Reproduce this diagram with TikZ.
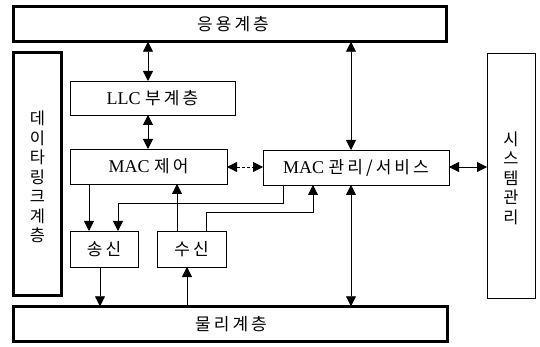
\documentclass[tikz,border=0pt]{standalone}
\usepackage{fontspec}
\setmainfont{Liberation Serif}
\newfontfamily\krfont{Noto Sans CJK KR}[LetterSpace=18]
\newcommand\kor[1]{{\krfont\fontsize{17}{20}\selectfont #1}}
\usetikzlibrary{arrows.meta,calc}
\begin{document}
\begin{tikzpicture}[x=1pt,y=-1pt,
  thickbox/.style={draw,line width=2.6pt,inner sep=0pt,outer sep=0pt,font=\fontsize{18}{21}\selectfont},
  thinbox/.style={draw,line width=0.8pt,inner sep=0pt,outer sep=0pt,font=\fontsize{18}{21}\selectfont},
  vtext/.style={align=center,font={\krfont\fontsize{16.5}{19.5}\selectfont}},
  conn/.style={line width=0.8pt},
  tip/.style={-{Triangle[length=10pt,width=10pt]}},
  dtip/.style={{Triangle[length=10pt,width=10pt]}-{Triangle[length=10pt,width=10pt]}}]
\useasboundingbox (0,0) rectangle (540,347);
\fill[white] (0,0) rectangle (540,347);
% boxes
\node[thickbox,minimum width=433.5pt,minimum height=35.5pt] (top) at (230,24) {};
\node (toplbl) at (233,24) {\kor{응용계층}};
\node[thickbox,minimum width=48.5pt,minimum height=243.5pt] (dl) at (37.5,174) {};
\node[vtext] (dllbl) at (37.5,177) {데\\이\\타\\링\\크\\계\\층};
\node[thickbox,minimum width=434.5pt,minimum height=35.5pt] (bot) at (230.5,324) {};
\node (botlbl) at (231,324) {\kor{물리계층}};
\node[thinbox,minimum width=165pt,minimum height=34pt] (llc) at (152.5,98) {LLC \kor{부계층}};
\node[thinbox,minimum width=157pt,minimum height=35pt] (mac) at (148.5,166.5) {MAC \kor{제어}};
\node[thinbox,minimum width=186pt,minimum height=35pt] (mgmt) at (356,167.5) {MAC \kor{관리/서비스}};
\node[thinbox,minimum width=48pt,minimum height=245pt] (sys) at (511,175.5) {};
\node[vtext] (syslbl) at (511,178) {시\\스\\템\\관\\리};
\node[thinbox,minimum width=68pt,minimum height=36pt] (tx) at (104,249) {\kor{송신}};
\node[thinbox,minimum width=69pt,minimum height=36pt] (rx) at (191.5,249) {\kor{수신}};
% helper coordinates
\coordinate (xa) at (148,0);
\coordinate (xb) at (351,0);
\coordinate (xc) at (89,0);
\coordinate (xd) at (118,0);
\coordinate (xe) at (283,203);
\coordinate (xf) at (177,0);
\coordinate (xg) at (206,212);
\coordinate (xh) at (313,212);
\coordinate (xi) at (100,0);
\coordinate (xj) at (187,0);
\coordinate (ya) at (0,167);
% connectors
\draw[conn,dtip] (top.south -| xa) -- (llc.north -| xa);
\draw[conn,dtip] (llc.south -| xa) -- (mac.north -| xa);
\draw[conn,dtip,densely dashed] (mac.east |- ya) -- (mgmt.west |- ya);
\draw[conn,dtip] (top.south -| xb) -- (mgmt.north -| xb);
\draw[conn,dtip] (mgmt.south -| xb) -- (bot.north -| xb);
\draw[conn,dtip] (mgmt.east |- ya) -- (sys.west |- ya);
\draw[conn,tip] (mac.south -| xc) -- (tx.north -| xc);
\draw[conn,tip] (mgmt.south -| xe) -- (xe) -- (xe -| xd) -- (tx.north -| xd);
\draw[conn,tip] (rx.north -| xf) -- (mac.south -| xf);
\draw[conn,tip] (rx.north -| xg) -- (xg) -- (xh) -- (mgmt.south -| xh);
\draw[conn,tip] (tx.south -| xi) -- (bot.north -| xi);
\draw[conn,tip] (bot.north -| xj) -- (rx.south -| xj);
\end{tikzpicture}
\end{document}
